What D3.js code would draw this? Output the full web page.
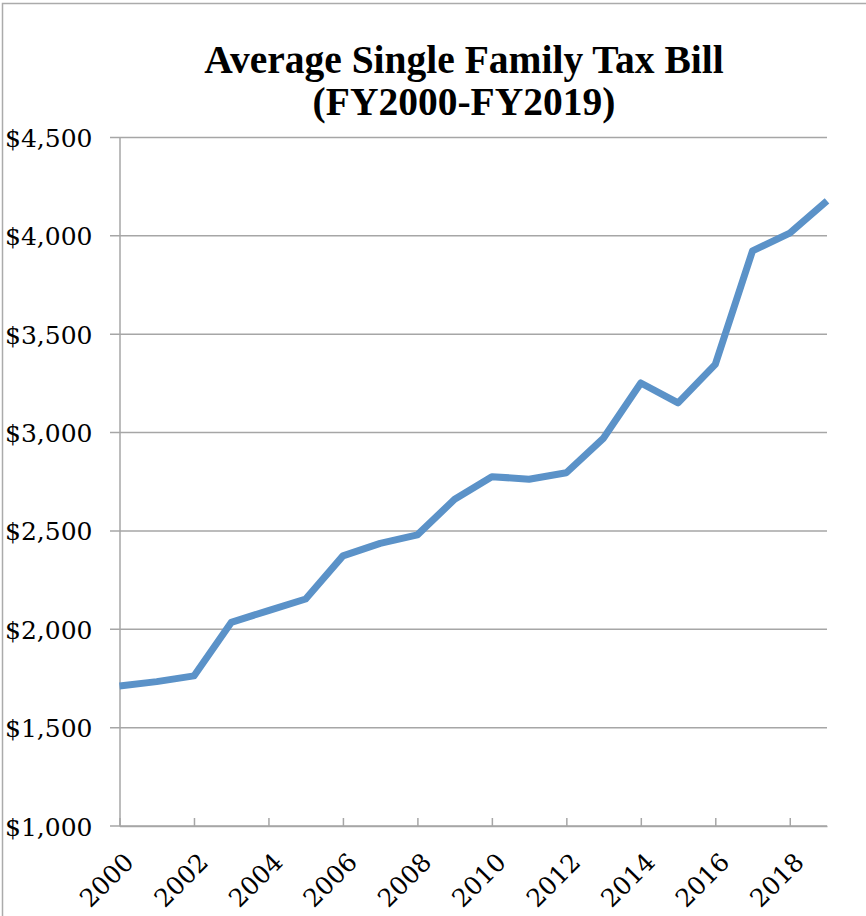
<!DOCTYPE html>
<html>
<head>
<meta charset="utf-8">
<script src="https://cdn.jsdelivr.net/npm/d3@7"></script>
<style>
  body { margin: 0; background: #fff; }
  svg { display: block; }
</style>
</head>
<body>
<div id="chart"><svg></svg></div>
<script>
let width = 866;
let height = 916;

// data
let years = [2000, 2001, 2002, 2003, 2004, 2005, 2006, 2007, 2008, 2009,
             2010, 2011, 2012, 2013, 2014, 2015, 2016, 2017, 2018, 2019];
let taxBill = [1712, 1734, 1763, 2035, 2095, 2154, 2373, 2437, 2480, 2661,
               2776, 2763, 2796, 2972, 3252, 3151, 3347, 3924, 4014, 4178];
let yTicks = [1000, 1500, 2000, 2500, 3000, 3500, 4000, 4500];
let xTicks = [2000, 2002, 2004, 2006, 2008, 2010, 2012, 2014, 2016, 2018];
let titleLines = ['Average Single Family Tax Bill', '(FY2000-FY2019)'];

let gridColor = '#a6a6a6';
let lineColor = '#5b92c8';

function draw_chart() {
    let svg = d3.select('#chart').select('svg')
        .attr('width', width)
        .attr('height', height);

    let x = d3.scaleLinear().domain([2000, 2019]).range([119.5, 827]);
    let y = d3.scaleLinear().domain([1000, 4500]).range([826, 137.5]);

    // outer frame (only left and top show in the picture)
    svg.append('path')
        .attr('d', `M2.5,${height} L2.5,3.5 L${width},3.5`)
        .attr('fill', 'none')
        .attr('stroke', '#ababab')
        .attr('stroke-width', 1.5);

    // title
    svg.append('g')
        .selectAll('text')
        .data(titleLines)
        .join('text')
        .attr('x', 464)
        .attr('y', (d, i) => 73 + i * 42)
        .attr('text-anchor', 'middle')
        .style('font-family', '"Liberation Serif", serif')
        .style('font-weight', 'bold')
        .style('font-size', '39.5px')
        .style('fill', '#000')
        .text(d => d);

    // horizontal gridlines
    svg.append('g')
        .selectAll('line')
        .data(yTicks)
        .join('line')
        .attr('x1', 110)
        .attr('x2', x(2019))
        .attr('y1', d => y(d))
        .attr('y2', d => y(d))
        .attr('stroke', gridColor)
        .attr('stroke-width', 1.5);

    // y axis
    let yAxis = svg.append('g')
        .attr('transform', `translate(${x(2000)},0)`)
        .call(d3.axisLeft(y)
            .tickValues(yTicks)
            .tickSize(0)
            .tickPadding(27)
            .tickFormat(d => '$' + d3.format(',')(d)));
    yAxis.select('.domain').attr('stroke', gridColor).attr('stroke-width', 1.5);
    yAxis.selectAll('text')
        .attr('dy', '0.36em')
        .style('font-family', '"DejaVu Serif", serif')
        .style('font-size', '25px')
        .style('fill', '#000');

    // x axis, ticks point up into the plot
    let xAxis = svg.append('g')
        .attr('transform', `translate(0,${y(1000)})`)
        .call(d3.axisBottom(x)
            .tickValues(xTicks)
            .tickSizeInner(-8)
            .tickSizeOuter(0)
            .tickFormat(d3.format('d')));
    xAxis.select('.domain').attr('stroke', gridColor).attr('stroke-width', 1.5);
    xAxis.selectAll('.tick line').attr('stroke', gridColor).attr('stroke-width', 1.5);
    xAxis.selectAll('text')
        .attr('y', 0)
        .attr('dy', '0.72em')
        .attr('text-anchor', 'end')
        .attr('transform', 'translate(2.5,25) rotate(-45)')
        .style('font-family', '"DejaVu Serif", serif')
        .style('font-size', '25px')
        .style('fill', '#000');

    // the series line
    let line = d3.line()
        .x((d, i) => x(years[i]))
        .y(d => y(d));

    svg.append('path')
        .datum(taxBill)
        .attr('fill', 'none')
        .attr('stroke', lineColor)
        .attr('stroke-width', 7)
        .attr('stroke-linejoin', 'round')
        .attr('d', line);
}

draw_chart();
</script>
</body>
</html>
